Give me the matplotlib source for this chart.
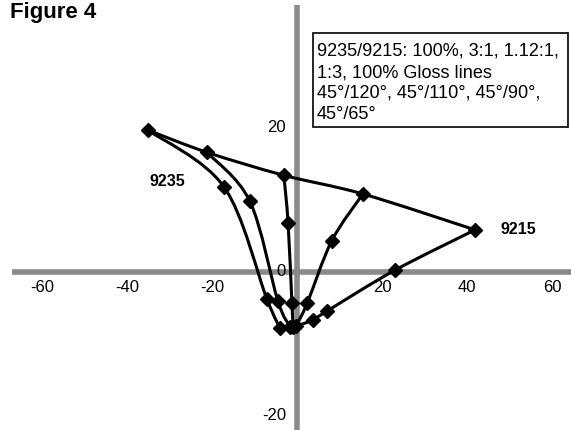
import numpy as np
import matplotlib.pyplot as plt
import matplotlib.transforms as mtransforms
from matplotlib.path import Path
from matplotlib.patches import PathPatch, Rectangle

plt.rcParams['font.family'] = ['Liberation Sans', 'DejaVu Sans']

# Flop curves of each mixture (4 viewing angles)
x_9235 = [-35.1, -17.2, -7.1, -4.0]
y_9235 = [19.7, 11.8, -3.8, -7.9]
x_3_1 = [-21.2, -11.1, -4.5, -1.6]
y_3_1 = [16.6, 9.8, -4.1, -7.7]
x_112_1 = [-3.1, -2.1, -1.2, -0.9]
y_112_1 = [13.4, 6.8, -4.4, -7.7]
x_1_3 = [15.5, 8.2, 2.4, -0.2]
y_1_3 = [10.8, 4.3, -4.4, -7.6]
x_9215 = [41.9, 23.1, 7.1, 3.8]
y_9215 = [5.8, 0.2, -5.5, -6.8]

series_x = [x_9235, x_3_1, x_112_1, x_1_3, x_9215]
series_y = [y_9235, y_3_1, y_112_1, y_1_3, y_9215]

xticks = [-60, -40, -20, 20, 40, 60]
yticks = [20, 0, -20]

box_lines = ['9235/9215: 100%, 3:1, 1.12:1,',
             '1:3, 100% Gloss lines',
             '45°/120°, 45°/110°, 45°/90°,',
             '45°/65°']


def smooth_path(xs, ys):
    # Bezier through the points, like a spreadsheet "smoothed line"
    pts = np.column_stack([xs, ys])
    n = len(pts)
    verts = [pts[0]]
    codes = [Path.MOVETO]
    for i in range(n - 1):
        p0 = pts[max(i - 1, 0)]
        p1 = pts[i]
        p2 = pts[i + 1]
        p3 = pts[min(i + 2, n - 1)]
        verts += [p1 + (p2 - p0) / 6, p2 - (p3 - p1) / 6, p2]
        codes += [Path.CURVE4] * 3
    return Path(verts, codes)


fig = plt.figure(figsize=(5.71, 4.30), dpi=100)
ax = fig.add_axes([0, 0, 1, 1])
ax.set_xlim(-297 / 4.25, (571 - 297) / 4.25)
ax.set_ylim((271.5 - 430) / 7.18, 271.5 / 7.18)
ax.axis('off')

# gray axes crossing at the origin
ax.plot([-67, 70], [0, 0], color='#8a8a8a', lw=4.0, zorder=1, solid_capstyle='butt')
ax.plot([0, 0], [37.1, -25], color='#8a8a8a', lw=4.0, zorder=1, solid_capstyle='butt')

# flop curves
for xs, ys in zip(series_x, series_y):
    ax.add_patch(PathPatch(smooth_path(xs, ys), fill=False, lw=2.2,
                           edgecolor='black', zorder=3))
    ax.plot(xs, ys, 'D', color='black', ms=7.5, zorder=4)

# gloss lines joining the same angle across the mixtures
for k in [0, 3]:
    gx = [xs[k] for xs in series_x]
    gy = [ys[k] for ys in series_y]
    ax.add_patch(PathPatch(smooth_path(gx, gy), fill=False, lw=2.2,
                           edgecolor='black', zorder=3))

# tick labels
xlab = mtransforms.offset_copy(ax.transData, fig=fig, y=-16.5, units='dots')
for v in xticks:
    ax.text(v, 0, str(v), transform=xlab, ha='center', va='center', fontsize=12)
ylab = mtransforms.offset_copy(ax.transData, fig=fig, x=-11, units='dots')
for v in yticks:
    ax.text(0, v, str(v), transform=ylab, ha='right', va='center', fontsize=12)

ax.text(-30.5, 12.5, '9235', ha='center', va='center', fontsize=11.5, fontweight='bold')
ax.text(52, 5.8, '9215', ha='center', va='center', fontsize=11.5, fontweight='bold')

# note box
fig.patches.append(Rectangle((313 / 571, 1 - 127 / 430), 255 / 571, 94 / 430,
                             transform=fig.transFigure, fill=False,
                             edgecolor='black', lw=1.2, zorder=5))
for i, line in enumerate(box_lines):
    fig.text(317 / 571, 1 - (56 + 21 * i) / 430, line, va='baseline',
             fontsize=13.1, zorder=6)

fig.text(10 / 571, 1 - 2 / 430, 'Figure 4', va='top', fontsize=16,
         fontweight='bold')

fig.savefig('out.png', dpi=100)
